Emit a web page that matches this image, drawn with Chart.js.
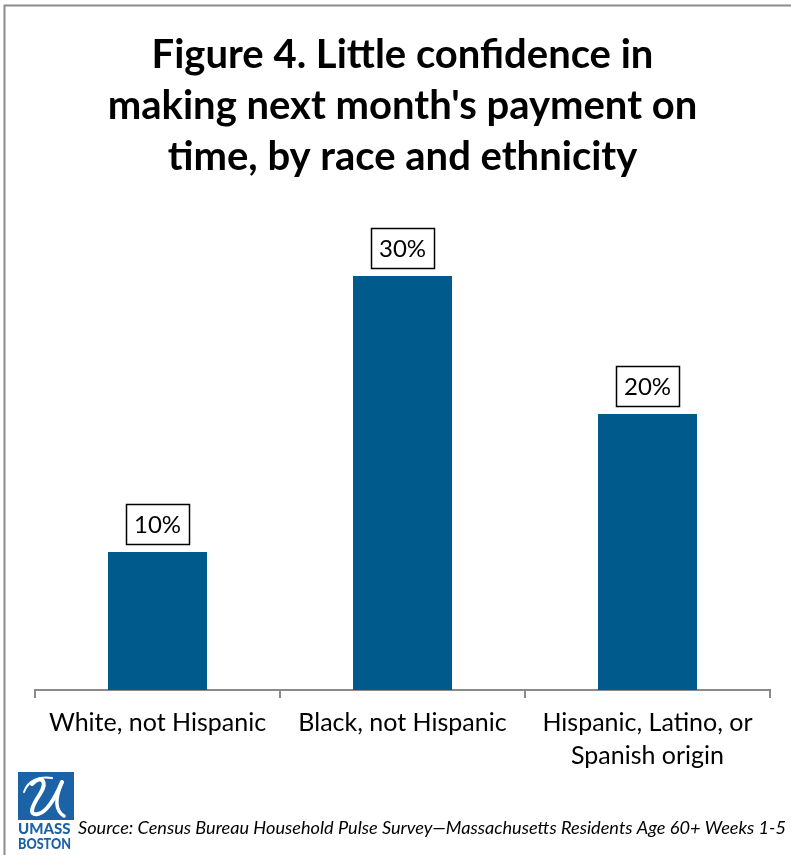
<!DOCTYPE html>
<html>
<head>
<meta charset="utf-8">
<script src="https://cdn.jsdelivr.net/npm/chart.js@4.4.1/dist/chart.umd.min.js"></script>
<style>
  html, body { margin: 0; padding: 0; background: #ffffff; }
  #wrap { position: relative; width: 791px; height: 855px; }
</style>
</head>
<body>
<div id="wrap"><canvas id="chart" width="791" height="855"></canvas></div>
<script>
// Share of residents with little confidence in making next month's payment
const categories = [
  ["White, not Hispanic"],
  ["Black, not Hispanic"],
  ["Hispanic, Latino, or", "Spanish origin"]
];
const percentValues = [10, 30, 20];
const titleLines = [
  "Figure 4. Little confidence in",
  "making next month's payment on",
  "time, by race and ethnicity"
];
const sourceNote = "Source: Census Bureau Household Pulse Survey\u2014Massachusetts Residents Age 60+ Weeks 1-5";

const BAR_BLUE = "#005a8c";
const LOGO_BLUE = "#1b63a6";
const AXIS_GREY = "#8a8a8a";
const FONT = "Lato, 'Open Sans', sans-serif";

// Boxed value labels above each bar
const boxedLabels = {
  id: "boxedLabels",
  afterDatasetsDraw(chart) {
    const ctx = chart.ctx;
    const meta = chart.getDatasetMeta(0);
    ctx.save();
    ctx.font = "24px " + FONT;
    ctx.textAlign = "center";
    ctx.textBaseline = "middle";
    meta.data.forEach((bar, i) => {
      const text = percentValues[i] + "%";
      const w = 63, h = 40;
      const cx = bar.x;
      const bottom = bar.y - 8;
      const left = Math.round(cx - w / 2) + 0.5;
      const top = Math.round(bottom - h) + 0.5;
      ctx.fillStyle = "#ffffff";
      ctx.fillRect(left, top, w, h);
      ctx.lineWidth = 1.5;
      ctx.strokeStyle = "#000000";
      ctx.strokeRect(left, top, w, h);
      ctx.fillStyle = "#000000";
      ctx.fillText(text, cx, top + h / 2 + 1);
    });
    ctx.restore();
  }
};

// Frame lines, university mark and source note
const frameAndFooter = {
  id: "frameAndFooter",
  afterDraw(chart) {
    const ctx = chart.ctx;
    ctx.save();
    // frame
    ctx.strokeStyle = "#8c8c8c";
    ctx.lineWidth = 2;
    ctx.beginPath();
    ctx.moveTo(4.5, 855);
    ctx.lineTo(4.5, 5.5);
    ctx.lineTo(791, 5.5);
    ctx.stroke();

    // logo square with script U
    const lx = 18, ly = 772, lw = 56, lh = 48;
    ctx.fillStyle = LOGO_BLUE;
    ctx.fillRect(lx, ly, lw, lh);
    ctx.strokeStyle = "#ffffff";
    ctx.lineCap = "round";
    ctx.lineWidth = 4;
    ctx.beginPath();
    ctx.moveTo(lx + 14, ly + 12);
    ctx.bezierCurveTo(lx + 24, ly + 2, lx + 30, ly + 10, lx + 22, ly + 22);
    ctx.bezierCurveTo(lx + 14, ly + 34, lx + 10, ly + 44, lx + 20, ly + 42);
    ctx.bezierCurveTo(lx + 30, ly + 40, lx + 38, ly + 24, lx + 44, ly + 10);
    ctx.stroke();
    ctx.lineWidth = 3.5;
    ctx.beginPath();
    ctx.moveTo(lx + 44, ly + 10);
    ctx.bezierCurveTo(lx + 38, ly + 24, lx + 36, ly + 38, lx + 46, ly + 44);
    ctx.stroke();
    ctx.lineWidth = 2;
    ctx.beginPath();
    ctx.moveTo(lx + 6, ly + 20);
    ctx.bezierCurveTo(lx + 10, ly + 8, lx + 22, ly + 4, lx + 34, ly + 6);
    ctx.stroke();

    ctx.fillStyle = LOGO_BLUE;
    ctx.textAlign = "left";
    ctx.textBaseline = "alphabetic";
    ctx.font = "900 15px " + FONT;
    ctx.fillText("UMASS", lx, 834, lw + 1);
    ctx.fillText("BOSTON", lx, 849, lw - 3);

    // source note
    ctx.fillStyle = "#000000";
    ctx.font = "italic 18.2px " + FONT;
    ctx.fillText(sourceNote, 78, 834, 708);
    ctx.restore();
  }
};

new Chart(document.getElementById("chart"), {
  type: "bar",
  data: {
    labels: categories,
    datasets: [{
      data: percentValues,
      backgroundColor: BAR_BLUE,
      borderWidth: 0,
      categoryPercentage: 1.0,
      barPercentage: 0.404
    }]
  },
  options: {
    responsive: false,
    animation: false,
    devicePixelRatio: 1,
    layout: { padding: { left: 35, right: 21, top: 0, bottom: 75 } },
    plugins: {
      legend: { display: false },
      tooltip: { enabled: false },
      title: {
        display: true,
        text: titleLines,
        color: "#000000",
        font: { family: FONT, size: 40, weight: "bold", lineHeight: 51 / 40 },
        padding: { top: 30, bottom: 24 }
      }
    },
    scales: {
      y: {
        display: false,
        min: 0,
        max: 35
      },
      x: {
        grid: {
          offset: true,
          drawOnChartArea: false,
          drawTicks: true,
          tickLength: 8,
          color: AXIS_GREY,
          lineWidth: 2
        },
        border: { display: true, color: AXIS_GREY, width: 2 },
        ticks: {
          color: "#000000",
          font: { family: FONT, size: 25, lineHeight: 33 / 25 },
          padding: 8,
          maxRotation: 0,
          autoSkip: false
        }
      }
    }
  },
  plugins: [boxedLabels, frameAndFooter]
});
</script>
</body>
</html>
